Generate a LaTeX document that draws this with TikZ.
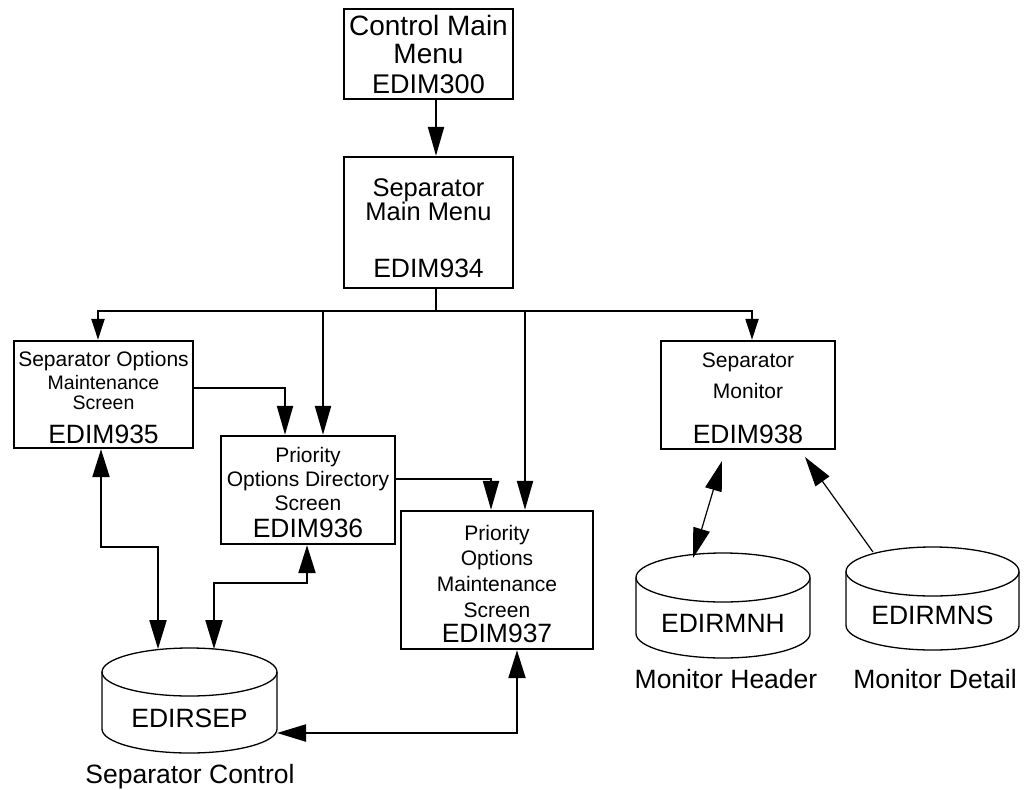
\documentclass[tikz,border=0pt]{standalone}
\usepackage{fontspec}
\setmainfont{Liberation Sans}
\usetikzlibrary{arrows.meta}
\newcommand\fsz[1]{\fontsize{#1pt}{#1pt}\selectfont}
\begin{document}
\begin{tikzpicture}[x=1pt,y=-1pt,
  box/.style={draw, line width=2.4pt, inner sep=0pt},
  lbl/.style={anchor=base, inner sep=0pt, outer sep=0pt},
  conn/.style={line width=2.2pt},
  thinconn/.style={line width=1.2pt},
  cyl/.style={line width=1.3pt},
  tipbig/.style={-{Triangle[length=29pt,width=16pt]}},
  tipsmall/.style={-{Triangle[length=21pt,width=13pt]}},
  tipboth/.style={{Triangle[length=28pt,width=17pt]}-{Triangle[length=29pt,width=17pt]}},
  tipdiag/.style={-{Triangle[length=30pt,width=17pt]}},
  tipdiagboth/.style={{Triangle[length=30pt,width=17pt]}-{Triangle[length=30pt,width=17pt]}}
]
\fill[white] (0,0) rectangle (1024,789);
\useasboundingbox (0,0) rectangle (1024,789);

% ---- boxes ----
\node[box, minimum width=169pt, minimum height=90pt]  (cmm)  at (428.5,54)   {};
\node[box, minimum width=169pt, minimum height=131pt] (smm)  at (428.5,222.5) {};
\node[box, minimum width=179pt, minimum height=107pt] (sop)  at (103.5,394.5) {};
\node[box, minimum width=174pt, minimum height=108pt] (pod)  at (308,490)   {};
\node[box, minimum width=192pt, minimum height=138pt] (pom)  at (497,580)   {};
\node[box, minimum width=174pt, minimum height=108pt] (smon) at (748,395)   {};

% ---- box texts ----
\node[lbl, font=\fsz{28}] (cmm1) at (428.5,36) {Control Main};
\node[lbl, font=\fsz{28}] (cmm2) at (428.5,64) {Menu};
\node[lbl, font=\fsz{27}] (cmm3) at (428.5,94) {EDIM300};

\node[lbl, font=\fsz{25.5}] (smm1) at (428.5,196) {Separator};
\node[lbl, font=\fsz{25.5}] (smm2) at (428.5,220) {Main Menu};
\node[lbl, font=\fsz{26.5}] (smm3) at (428.5,277) {EDIM934};

\node[lbl, font=\fsz{21}]   (sop1) at (103.5,366) {Separator Options};
\node[lbl, font=\fsz{19.5}] (sop2) at (103.5,389) {Maintenance};
\node[lbl, font=\fsz{19.5}] (sop3) at (103.5,409) {Screen};
\node[lbl, font=\fsz{26.5}] (sop4) at (103.5,443) {EDIM935};

\node[lbl, font=\fsz{21}]   (pod1) at (308,462) {Priority};
\node[lbl, font=\fsz{21}]   (pod2) at (308,486) {Options Directory};
\node[lbl, font=\fsz{21}]   (pod3) at (308,510) {Screen};
\node[lbl, font=\fsz{26.5}] (pod4) at (308,537) {EDIM936};

\node[lbl, font=\fsz{21}]   (pom1) at (497,540) {Priority};
\node[lbl, font=\fsz{21}]   (pom2) at (497,565) {Options};
\node[lbl, font=\fsz{21}]   (pom3) at (497,591) {Maintenance};
\node[lbl, font=\fsz{21}]   (pom4) at (497,617) {Screen};
\node[lbl, font=\fsz{26.5}] (pom5) at (497,642) {EDIM937};

\node[lbl, font=\fsz{21}]   (smon1) at (748,367) {Separator};
\node[lbl, font=\fsz{21}]   (smon2) at (748,398) {Monitor};
\node[lbl, font=\fsz{26.5}] (smon3) at (748,443) {EDIM938};

% ---- cylinders ----
\draw[cyl] (102,672) -- (102,729) arc[start angle=180,end angle=360,x radius=87.5pt,y radius=24pt] -- (277,672);
\draw[cyl] (189.5,672) ellipse [x radius=87.5pt, y radius=24pt];
\node[lbl, font=\fsz{26.5}] (sepdb) at (189.5,727) {EDIRSEP};
\node[lbl, font=\fsz{26.5}] (sepcap) at (190,783) {Separator Control};

\draw[cyl] (636,577.5) -- (636,633.5) arc[start angle=180,end angle=360,x radius=87pt,y radius=24.5pt] -- (810,577.5);
\draw[cyl] (723,577.5) ellipse [x radius=87pt, y radius=24.5pt];
\node[lbl, font=\fsz{26.5}] (mnh) at (723,632) {EDIRMNH};
\node[lbl, font=\fsz{26.5}] (mnhcap) at (726,688) {Monitor Header};

\draw[cyl] (846,571.5) -- (846,625.5) arc[start angle=180,end angle=360,x radius=86.5pt,y radius=24.5pt] -- (1019,571.5);
\draw[cyl] (932.5,571.5) ellipse [x radius=86.5pt, y radius=24.5pt];
\node[lbl, font=\fsz{26.5}] (mns) at (932.5,624) {EDIRMNS};
\node[lbl, font=\fsz{26.5}] (mnscap) at (935,688) {Monitor Detail};

% ---- connector anchor coordinates ----
\coordinate (bus)  at (436,311);
\coordinate (sepA) at (158,649);
\coordinate (sepB) at (214,649);
\coordinate (sepR) at (277,733);
\coordinate (mnhTop) at (693,558);
\coordinate (smonLow) at (722,461);
\coordinate (mnsTop) at (873,552);
\coordinate (smonLow2) at (805,457);

% ---- connectors ----
\draw[conn, tipbig] (436,0 |- cmm.south) -- (436,0 |- smm.north);
\draw[conn] (436,0 |- smm.south) -- (bus);
\draw[conn, tipsmall] (bus) -| (98,0 |- sop.north);
\draw[conn, tipbig]   (bus) -| (323,0 |- pod.north);
\draw[conn, tipbig]   (bus) -| (525,0 |- pom.north);
\draw[conn, tipsmall] (bus) -| (752,0 |- smon.north);

\draw[conn, tipbig] (sop.east |- 0,388) -| (285,0 |- pod.north);
\draw[conn, tipbig] (pod.east |- 0,479) -| (491,0 |- pom.north);

\draw[conn, tipboth] (101,0 |- sop.south) -- (101,547) -| (sepA);
\draw[conn, tipboth] (307,0 |- pod.south) -- (307,583) -| (sepB);
\draw[conn, tipboth] (517,0 |- pom.south) |- (sepR);

\draw[thinconn, tipdiagboth] (smonLow) -- (mnhTop);
\draw[thinconn, tipdiag] (mnsTop) -- (smonLow2);
\end{tikzpicture}
\end{document}
